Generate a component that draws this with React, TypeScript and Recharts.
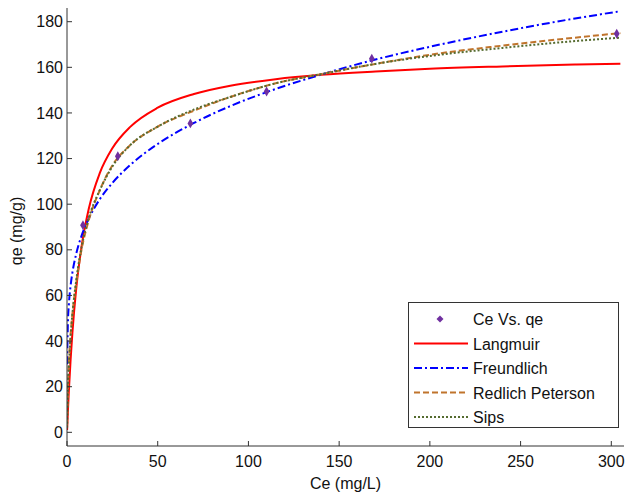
import {
	ComposedChart,
	Line,
	Scatter,
	XAxis,
	YAxis,
	ZAxis,
	Label,
} from 'recharts';

const ceValues = [0.05, 0.5, 1, 2, 3, 5, 8, 12, 18, 25, 35, 50, 70, 90, 115, 140, 170, 200, 240, 280, 305];
const langmuir = [1, 9.4, 17.8, 32.1, 43.9, 62.3, 81.3, 98, 113.5, 124.5, 134, 142.3, 148.3, 151.9, 154.8, 156.7, 158.2, 159.4, 160.4, 161.2, 161.6];
const freundlich = [29.8, 48.2, 55.7, 64.4, 70.1, 78, 86.1, 93.7, 102.1, 109.3, 117.3, 126.4, 135.6, 143, 150.5, 156.8, 163.4, 169, 175.6, 181.4, 184.6];
const redlichPeterson = [3, 20, 30, 43, 52, 65, 80, 93, 106, 117, 126, 134, 141, 147, 153, 157, 161.5, 165.5, 169.5, 173, 175];
const sips = [2, 18, 28, 42, 52, 66, 81, 94, 106, 116.5, 126, 134, 141.5, 147, 153, 157, 161.5, 165, 168.5, 171.5, 173];

// experimental points
const expCe = [8.8, 28, 68, 110, 168, 303];
const expQe = [90.8, 121, 135.4, 149.4, 163.8, 174.7];

const xTicks = [0, 50, 100, 150, 200, 250, 300];
const yTicks = [0, 20, 40, 60, 80, 100, 120, 140, 160, 180];

const curveData = ceValues.map((ce, i) => ({
	ce,
	langmuir: langmuir[i],
	freundlich: freundlich[i],
	rp: redlichPeterson[i],
	sips: sips[i],
}));
const pointData = expCe.map((ce, i) => ({ ce, qe: expQe[i] }));

const FONT = 'Arial, "Liberation Sans", sans-serif';
const AXIS = '#333';

const legendItems = [
	{ name: 'Ce Vs. qe', color: '#7030a0', dash: 'marker' },
	{ name: 'Langmuir', color: '#ff0000', dash: '' },
	{ name: 'Freundlich', color: '#0000ff', dash: '8 3 2 3' },
	{ name: 'Redlich Peterson', color: '#c0742c', dash: '6 3' },
	{ name: 'Sips', color: '#556b2f', dash: '2 2' },
];

const LegendBox = () => (
	<div style={{ position: 'absolute', left: 408, top: 302, width: 209, height: 124, border: '1px solid #333', background: '#fff' }}>
		<svg width={209} height={124}>
			{legendItems.map((it, i) => {
				const y = 16 + i * 24.5;
				return (
					<g key={it.name}>
						{it.dash === 'marker' ? (
							<path d={`M31,${y - 3.5} L34.5,${y} L31,${y + 3.5} L27.5,${y} Z`} fill={it.color} />
						) : (
							<line x1={5} x2={59} y1={y} y2={y} stroke={it.color} strokeWidth={2} strokeDasharray={it.dash || undefined} />
						)}
						<text x={64} y={y + 6} fontSize={16} fontFamily={FONT} fill="#111">
							{it.name}
						</text>
					</g>
				);
			})}
		</svg>
	</div>
);

const App = () => {
	return (
		<div style={{ position: 'absolute', left: 0, top: 0, width: 627, height: 496, overflow: 'hidden' }}>
			<ComposedChart
				width={627}
				height={496}
				data={curveData}
				margin={{ top: 8, right: 3, bottom: 0, left: 27 }}
				style={{ fontFamily: FONT }}
			>
				<XAxis
					dataKey="ce"
					type="number"
					domain={[0, 307]}
					ticks={xTicks}
					height={50}
					tickSize={-5}
					tickMargin={15}
					stroke={AXIS}
					tick={{ fill: '#111', fontSize: 16 }}
					allowDataOverflow
				>
					<Label
						content={({ viewBox }: any) => (
							<text x={viewBox.x + viewBox.width / 2} y={489} textAnchor="middle" fontSize={16} fill="#111" fontFamily={FONT}>
								Ce (mg/L)
							</text>
						)}
					/>
				</XAxis>
				<XAxis xAxisId="top" orientation="top" dataKey="ce" type="number" domain={[0, 307]} ticks={xTicks} height={0} tickSize={-5} tick={false} stroke={AXIS} allowDataOverflow />
				<YAxis
					type="number"
					domain={[-6, 186]}
					ticks={yTicks}
					width={40}
					tickSize={-5}
					tickMargin={9}
					stroke={AXIS}
					tick={{ fill: '#111', fontSize: 16 }}
					allowDataOverflow
				>
					<Label
						content={({ viewBox }: any) => {
							const cy = viewBox.y + viewBox.height / 2 + 4;
							return (
								<text x={22} y={cy} transform={`rotate(-90 22 ${cy})`} textAnchor="middle" fontSize={16} fill="#111" fontFamily={FONT}>
									qe (mg/g)
								</text>
							);
						}}
					/>
				</YAxis>
				<YAxis yAxisId="right" orientation="right" type="number" domain={[-6, 186]} ticks={yTicks} width={0} tickSize={-5} tick={false} stroke={AXIS} allowDataOverflow />
				<ZAxis range={[28, 28]} />
				<Line type="monotone" dataKey="langmuir" name="Langmuir" stroke="#ff0000" strokeWidth={2} dot={false} isAnimationActive={false} />
				<Line type="monotone" dataKey="freundlich" name="Freundlich" stroke="#0000ff" strokeWidth={2} strokeDasharray="8 3 2 3" dot={false} isAnimationActive={false} />
				<Line type="monotone" dataKey="rp" name="Redlich Peterson" stroke="#c0742c" strokeWidth={2} strokeDasharray="6 3" dot={false} isAnimationActive={false} />
				<Line type="monotone" dataKey="sips" name="Sips" stroke="#556b2f" strokeWidth={2} strokeDasharray="2 2" dot={false} isAnimationActive={false} />
				<Scatter data={pointData} dataKey="qe" name="Ce Vs. qe" fill="#7030a0" shape="diamond" isAnimationActive={false} />
			</ComposedChart>
			<LegendBox />
		</div>
	);
};

export default App;
